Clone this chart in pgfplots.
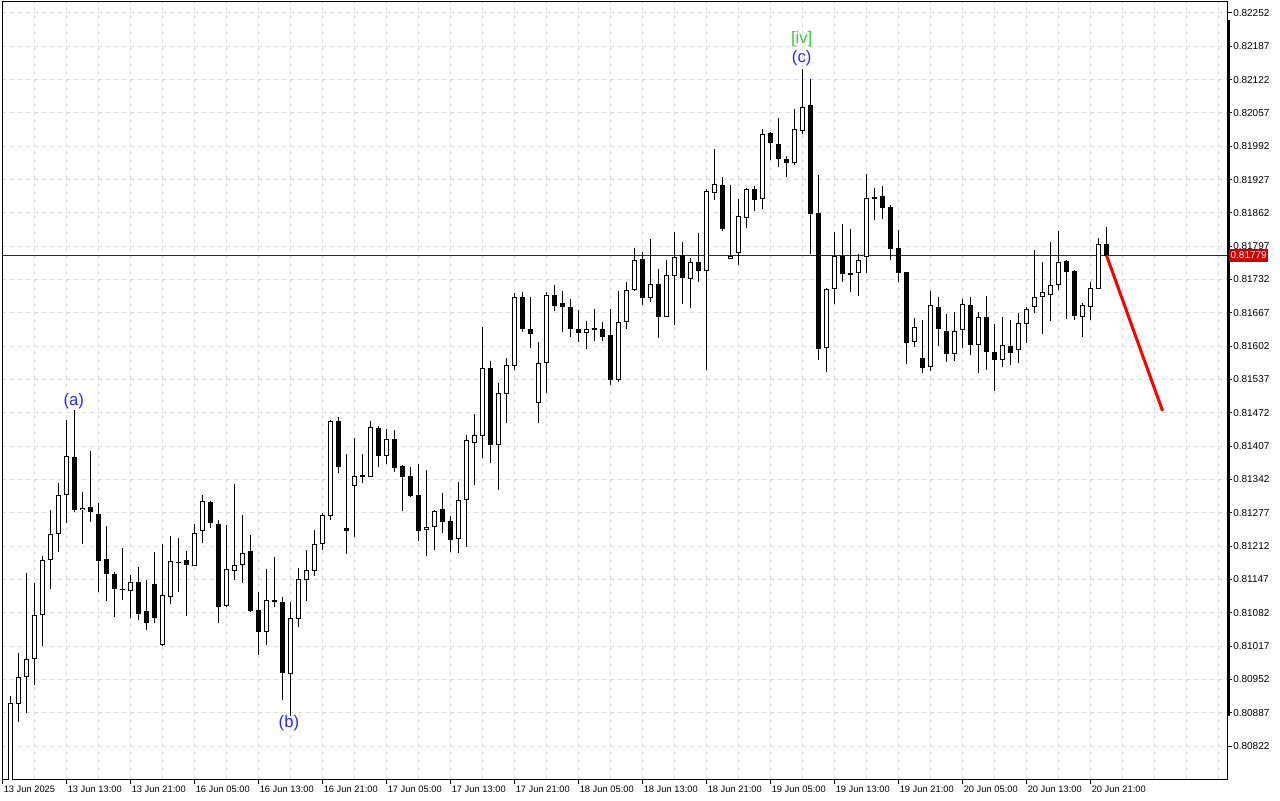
\documentclass[border=0pt]{standalone}
\usepackage{pgfplots}
\pgfplotsset{compat=1.18}
\usepackage{pgfplotstable}
\usepackage{fontspec}
\setmainfont{Liberation Sans}
\definecolor{gridc}{RGB}{220,220,220}
\definecolor{lblue}{RGB}{40,40,255}
\definecolor{lgreen}{RGB}{60,205,60}
\definecolor{pline}{RGB}{150,0,0}
\definecolor{pbox}{RGB}{204,0,0}

\pgfplotstableread{
k o h l c
0 0.80736 0.80922 0.80717 0.80906
1 0.80906 0.81003 0.80869 0.80959
2 0.80957 0.81160 0.80886 0.80992
3 0.80992 0.81140 0.80941 0.81078
4 0.81078 0.81193 0.81019 0.81185
5 0.81185 0.81284 0.81130 0.81236
6 0.81236 0.81337 0.81202 0.81312
7 0.81312 0.81460 0.81259 0.81388
8 0.81386 0.81478 0.81280 0.81284
9 0.81284 0.81318 0.81218 0.81288
10 0.81290 0.81398 0.81259 0.81280
11 0.81275 0.81298 0.81124 0.81183
12 0.81187 0.81253 0.81105 0.81158
13 0.81158 0.81162 0.81074 0.81130
14 0.81130 0.81210 0.81109 0.81128
15 0.81124 0.81156 0.81072 0.81142
16 0.81144 0.81173 0.81070 0.81081
17 0.81085 0.81146 0.81050 0.81062
18 0.81140 0.81200 0.81062 0.81072
19 0.81021 0.81218 0.81019 0.81117
20 0.81113 0.81232 0.81099 0.81183
21 0.81181 0.81228 0.81124 0.81181
22 0.81185 0.81202 0.81076 0.81175
23 0.81175 0.81255 0.81175 0.81239
24 0.81241 0.81312 0.81220 0.81300
25 0.81298 0.81302 0.81249 0.81257
26 0.81257 0.81265 0.81064 0.81095
27 0.81095 0.81255 0.81095 0.81167
28 0.81165 0.81333 0.81146 0.81177
29 0.81177 0.81273 0.81140 0.81200
30 0.81202 0.81234 0.81083 0.81085
31 0.81087 0.81122 0.81000 0.81044
32 0.81046 0.81167 0.81019 0.81109
33 0.81107 0.81191 0.81093 0.81103
34 0.81103 0.81115 0.80914 0.80964
35 0.80964 0.81105 0.80882 0.81072
36 0.81070 0.81169 0.81054 0.81148
37 0.81146 0.81204 0.81105 0.81165
38 0.81163 0.81243 0.81154 0.81216
39 0.81216 0.81277 0.81204 0.81273
40 0.81271 0.81460 0.81265 0.81456
41 0.81458 0.81464 0.81355 0.81368
42 0.81247 0.81392 0.81197 0.81241
43 0.81329 0.81423 0.81230 0.81349
44 0.81351 0.81392 0.81335 0.81347
45 0.81347 0.81456 0.81347 0.81444
46 0.81444 0.81448 0.81368 0.81388
47 0.81388 0.81442 0.81374 0.81421
48 0.81421 0.81440 0.81358 0.81364
49 0.81368 0.81372 0.81282 0.81347
50 0.81349 0.81368 0.81308 0.81310
51 0.81314 0.81374 0.81222 0.81243
52 0.81245 0.81362 0.81195 0.81251
53 0.81249 0.81284 0.81206 0.81280
54 0.81284 0.81316 0.81238 0.81259
55 0.81261 0.81273 0.81202 0.81224
56 0.81226 0.81339 0.81200 0.81302
57 0.81304 0.81429 0.81210 0.81421
58 0.81415 0.81472 0.81333 0.81429
59 0.81427 0.81641 0.81386 0.81561
60 0.81561 0.81575 0.81376 0.81411
61 0.81411 0.81530 0.81321 0.81511
62 0.81509 0.81579 0.81452 0.81565
63 0.81563 0.81708 0.81557 0.81698
64 0.81698 0.81708 0.81630 0.81636
65 0.81637 0.81698 0.81600 0.81628
66 0.81493 0.81612 0.81454 0.81571
67 0.81571 0.81708 0.81511 0.81704
68 0.81702 0.81721 0.81671 0.81680
69 0.81688 0.81710 0.81630 0.81680
70 0.81680 0.81696 0.81620 0.81636
71 0.81636 0.81675 0.81612 0.81628
72 0.81628 0.81651 0.81597 0.81636
73 0.81637 0.81676 0.81614 0.81634
74 0.81637 0.81651 0.81614 0.81622
75 0.81624 0.81676 0.81528 0.81536
76 0.81536 0.81710 0.81534 0.81649
77 0.81649 0.81729 0.81637 0.81712
78 0.81712 0.81795 0.81710 0.81772
79 0.81772 0.81786 0.81682 0.81696
80 0.81696 0.81813 0.81690 0.81723
81 0.81725 0.81753 0.81618 0.81659
82 0.81659 0.81770 0.81659 0.81741
83 0.81741 0.81825 0.81645 0.81778
84 0.81780 0.81805 0.81684 0.81735
85 0.81735 0.81774 0.81676 0.81768
86 0.81766 0.81823 0.81727 0.81749
87 0.81749 0.81909 0.81556 0.81905
88 0.81901 0.81987 0.81887 0.81918
89 0.81918 0.81934 0.81829 0.81833
90 0.81772 0.81916 0.81772 0.81778
91 0.81786 0.81889 0.81760 0.81858
92 0.81852 0.81911 0.81833 0.81909
93 0.81909 0.81914 0.81866 0.81889
94 0.81891 0.82026 0.81870 0.82018
95 0.82018 0.82020 0.81965 0.82000
96 0.81998 0.82047 0.81952 0.81969
97 0.81967 0.81975 0.81934 0.81959
98 0.81959 0.82065 0.81955 0.82026
99 0.82022 0.82145 0.82018 0.82069
100 0.82074 0.82125 0.81784 0.81860
101 0.81862 0.81936 0.81575 0.81598
102 0.81598 0.81716 0.81552 0.81714
103 0.81715 0.81825 0.81684 0.81778
104 0.81778 0.81840 0.81727 0.81743
105 0.81745 0.81833 0.81710 0.81741
106 0.81747 0.81782 0.81700 0.81772
107 0.81776 0.81940 0.81747 0.81891
108 0.81893 0.81913 0.81850 0.81889
109 0.81895 0.81914 0.81850 0.81872
110 0.81874 0.81878 0.81770 0.81792
111 0.81794 0.81829 0.81729 0.81745
112 0.81747 0.81747 0.81569 0.81608
113 0.81610 0.81657 0.81600 0.81639
114 0.81579 0.81653 0.81550 0.81561
115 0.81561 0.81710 0.81554 0.81682
116 0.81680 0.81698 0.81602 0.81636
117 0.81634 0.81665 0.81573 0.81589
118 0.81589 0.81669 0.81573 0.81634
119 0.81634 0.81696 0.81600 0.81684
120 0.81684 0.81700 0.81587 0.81606
121 0.81604 0.81671 0.81552 0.81659
122 0.81659 0.81700 0.81557 0.81591
123 0.81591 0.81645 0.81515 0.81575
124 0.81575 0.81659 0.81563 0.81604
125 0.81604 0.81655 0.81567 0.81591
126 0.81595 0.81667 0.81569 0.81647
127 0.81647 0.81680 0.81610 0.81676
128 0.81678 0.81790 0.81667 0.81698
129 0.81698 0.81766 0.81626 0.81708
130 0.81704 0.81805 0.81651 0.81723
131 0.81723 0.81829 0.81714 0.81768
132 0.81768 0.81770 0.81655 0.81747
133 0.81749 0.81751 0.81653 0.81661
134 0.81661 0.81688 0.81620 0.81684
135 0.81680 0.81729 0.81655 0.81716
136 0.81716 0.81813 0.81716 0.81803
137 0.81803 0.81835 0.81779 0.81779
}\candles

\begin{document}
\begin{tikzpicture}
\useasboundingbox (0,0) rectangle (960pt,600pt);
\begin{axis}[
  at={(1.5pt,15.75pt)}, anchor=south west,
  scale only axis, width=918.75pt, height=582.75pt,
  xmin=-1.0625, xmax=152.0625,
  ymin=0.8075762, ymax=0.8227346,
  clip mode=individual,
  axis line style={line width=0.75pt, black},
  tick align=outside,
  xtick pos=left, ytick pos=right, yticklabel pos=right,
  major tick length=3.75pt, minor tick length=0pt,
  tick style={black, line width=0.75pt},
  xtick={-1,7,...,135},
  xticklabels={13 Jun 2025, 13 Jun 13:00, 13 Jun 21:00, 16 Jun 05:00, 16 Jun 13:00, 16 Jun 21:00, 17 Jun 05:00, 17 Jun 13:00, 17 Jun 21:00, 18 Jun 05:00, 18 Jun 13:00, 18 Jun 21:00, 19 Jun 05:00, 19 Jun 13:00, 19 Jun 21:00, 20 Jun 05:00, 20 Jun 13:00, 20 Jun 21:00},
  minor xtick={-1,3,...,151},
  ytick={0.80822,0.80887,0.80952,0.81017,0.81082,0.81147,0.81212,0.81277,0.81342,0.81407,0.81472,0.81537,0.81602,0.81667,0.81732,0.81797,0.81862,0.81927,0.81992,0.82057,0.82122,0.82187,0.82252},
  yticklabels={0.80822,0.80887,0.80952,0.81017,0.81082,0.81147,0.81212,0.81277,0.81342,0.81407,0.81472,0.81537,0.81602,0.81667,0.81732,0.81797,0.81862,0.81927,0.81992,0.82057,0.82122,0.82187,0.82252},
  xmajorgrids=false, xminorgrids=true, ymajorgrids=true,
  major grid style={gridc, dash pattern=on 3pt off 3pt, line width=0.75pt},
  minor grid style={gridc, dash pattern=on 3pt off 3pt, line width=0.75pt},
  xticklabel style={anchor=north west, inner sep=0pt, font=\fontsize{7}{9}\selectfont, xshift=0.75pt, yshift=-1pt},
  yticklabel style={anchor=west, inner sep=0pt, font=\fontsize{7.5}{9}\selectfont, xshift=0.75pt},
]
% current price line
\addplot[pline, line width=0.75pt, forget plot] coordinates {(-2,0.81779) (153,0.81779)};
% wicks
\addplot[draw=none, mark=none, forget plot,
  error bars/.cd, y dir=both, y explicit, error mark=none,
  error bar style={draw=black, solid, line width=0.75pt}]
  table[x=k, y expr={(\thisrow{h}+\thisrow{l})/2}, y error expr={(\thisrow{h}-\thisrow{l})/2}] {\candles};
% bearish bodies
\addplot[draw=none, mark=none, forget plot, restrict y to domain=0.5:1,
  error bars/.cd, y dir=both, y explicit, error mark=none,
  error bar style={draw=black, solid, line width=3.75pt}]
  table[x=k, y expr={\thisrow{c}<\thisrow{o} ? (\thisrow{o}+\thisrow{c})/2 : 5}, y error expr={max(abs(\thisrow{o}-\thisrow{c})/2, 0.0000098)}] {\candles};
% bullish bodies: outline
\addplot[draw=none, mark=none, forget plot, restrict y to domain=0.5:1,
  error bars/.cd, y dir=both, y explicit, error mark=none,
  error bar style={draw=black, solid, line width=3.75pt}]
  table[x=k, y expr={\thisrow{c}<\thisrow{o} ? 5 : (\thisrow{o}+\thisrow{c})/2}, y error expr={max(abs(\thisrow{o}-\thisrow{c})/2, 0.0000098)}] {\candles};
% bullish bodies: white inside
\addplot[draw=none, mark=none, forget plot, restrict y to domain=0.5:1,
  error bars/.cd, y dir=both, y explicit, error mark=none,
  error bar style={draw=white, solid, line width=2.25pt}]
  table[x=k, y expr={\thisrow{c}<\thisrow{o} ? 5 : (\thisrow{o}+\thisrow{c})/2}, y error expr={max(abs(\thisrow{o}-\thisrow{c})/2-0.0000195, 0)}] {\candles};
% forecast line
\addplot[red, line width=2.25pt, forget plot] coordinates {(137,0.81779) (144,0.81476)};
% wave labels
\node[text=lblue, font=\fontsize{12.5}{14}\selectfont, inner sep=0pt] at (axis cs:7.9,0.81495) {(a)};
\node[text=lblue, font=\fontsize{12.5}{14}\selectfont, inner sep=0pt] at (axis cs:34.8,0.80867) {(b)};
\node[text=lblue, font=\fontsize{12.5}{14}\selectfont, inner sep=0pt] at (axis cs:98.9,0.82164) {(c)};
\node[text=lgreen, font=\fontsize{12.5}{14}\selectfont, inner sep=0pt] at (axis cs:98.9,0.82201) {[iv]};
\coordinate (pl) at (axis cs:152.0625,0.81779);
\coordinate (tb1) at (axis cs:152.0625,0.82238);
\coordinate (tb2) at (axis cs:152.0625,0.80880);
\end{axis}
\draw[line width=2.25pt] ([xshift=0.75pt]tb1) -- ([xshift=0.75pt]tb2);
\node[fill=pbox, text=white, anchor=west, inner xsep=1pt, inner ysep=0pt, minimum height=9.75pt, font=\fontsize{7.5}{9}\selectfont] at ([xshift=1.5pt]pl) {0.81779};
\end{tikzpicture}
\end{document}
